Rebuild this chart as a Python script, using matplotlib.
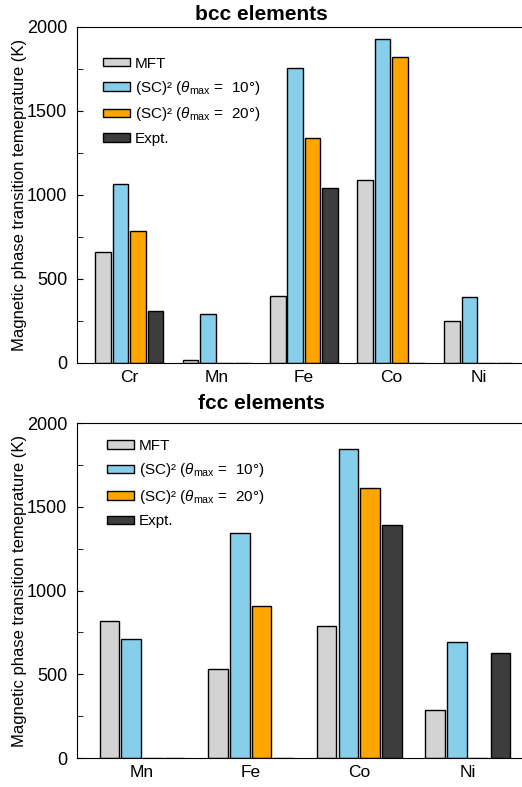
import numpy as np
import matplotlib
matplotlib.use('Agg')
import matplotlib.pyplot as plt

plt.rcParams['font.family'] = ['Liberation Sans', 'DejaVu Sans']
plt.rcParams['mathtext.fontset'] = 'custom'
plt.rcParams['mathtext.rm'] = 'Liberation Sans'
plt.rcParams['mathtext.it'] = 'Liberation Sans:italic'

series = ['MFT', '(SC)² ($\\theta_{\\rm max}$ =  10°)',
          '(SC)² ($\\theta_{\\rm max}$ =  20°)', 'Expt.']
colors = ['#d3d3d3', '#87ceeb', '#ffa500', '#3d3d3d']

bcc_elements = ['Cr', 'Mn', 'Fe', 'Co', 'Ni']
bcc_mft = [660, 18, 400, 1090, 250]
bcc_sc10 = [1068, 290, 1757, 1930, 390]
bcc_sc20 = [785, 0, 1340, 1820, 0]
bcc_expt = [311, 0, 1043, 0, 0]

fcc_elements = ['Mn', 'Fe', 'Co', 'Ni']
fcc_mft = [820, 530, 790, 285]
fcc_sc10 = [710, 1342, 1842, 692]
fcc_sc20 = [0, 910, 1612, 0]
fcc_expt = [0, 0, 1390, 630]

ylabel = 'Magnetic phase transition temeprature (K)'


def barpanel(ax, elements, data, legpos):
    """
    Draws one grouped bar panel
    :param ax: axes to draw into
    :param elements: group names
    :param data: list of the four series
    :param legpos: legend anchor (axes fraction)
    """
    x = np.arange(len(elements))
    offsets = [-0.3, -0.1, 0.1, 0.3]
    for vals, off, col, lab in zip(data, offsets, colors, series):
        ax.bar(x + off, vals, width=0.18, color=col, edgecolor='black',
               linewidth=1.0, label=lab)
    ax.set_xlim(-0.6, len(elements) - 0.5)
    ax.set_ylim(0, 2000)
    ax.set_xticks(x)
    ax.set_xticklabels(elements, fontsize=12.5)
    ax.tick_params(axis='x', length=0, pad=5)
    ax.set_yticks([0, 500, 1000, 1500, 2000])
    ax.set_yticks([250, 750, 1250, 1750], minor=True)
    ax.tick_params(axis='y', which='both', direction='in', labelsize=13,
                   length=4, pad=7)
    ax.spines['right'].set_visible(False)
    ax.set_ylabel(ylabel, fontsize=12)
    ax.yaxis.set_label_coords(-0.113, 0.5)
    ax.legend(loc='upper left', bbox_to_anchor=legpos, frameon=False,
              fontsize=11, handlelength=1.75, handleheight=0.5,
              labelspacing=0.55, handletextpad=0.35, borderpad=0,
              borderaxespad=0)


fig = plt.figure(figsize=(5.22, 7.87), dpi=100)
ax1 = fig.add_axes([0.1475, 0.5388, 0.8525, 0.4269])
ax2 = fig.add_axes([0.1475, 0.0368, 0.8525, 0.4257])

barpanel(ax1, bcc_elements, [bcc_mft, bcc_sc10, bcc_sc20, bcc_expt], (0.058, 0.912))
barpanel(ax2, fcc_elements, [fcc_mft, fcc_sc10, fcc_sc20, fcc_expt], (0.067, 0.952))

fig.text(0.5, 0.982, 'bcc elements', ha='center', va='center',
         fontsize=15, fontweight='bold')
fig.text(0.5, 0.487, 'fcc elements', ha='center', va='center',
         fontsize=15, fontweight='bold')

fig.savefig('out.png', dpi=100)
